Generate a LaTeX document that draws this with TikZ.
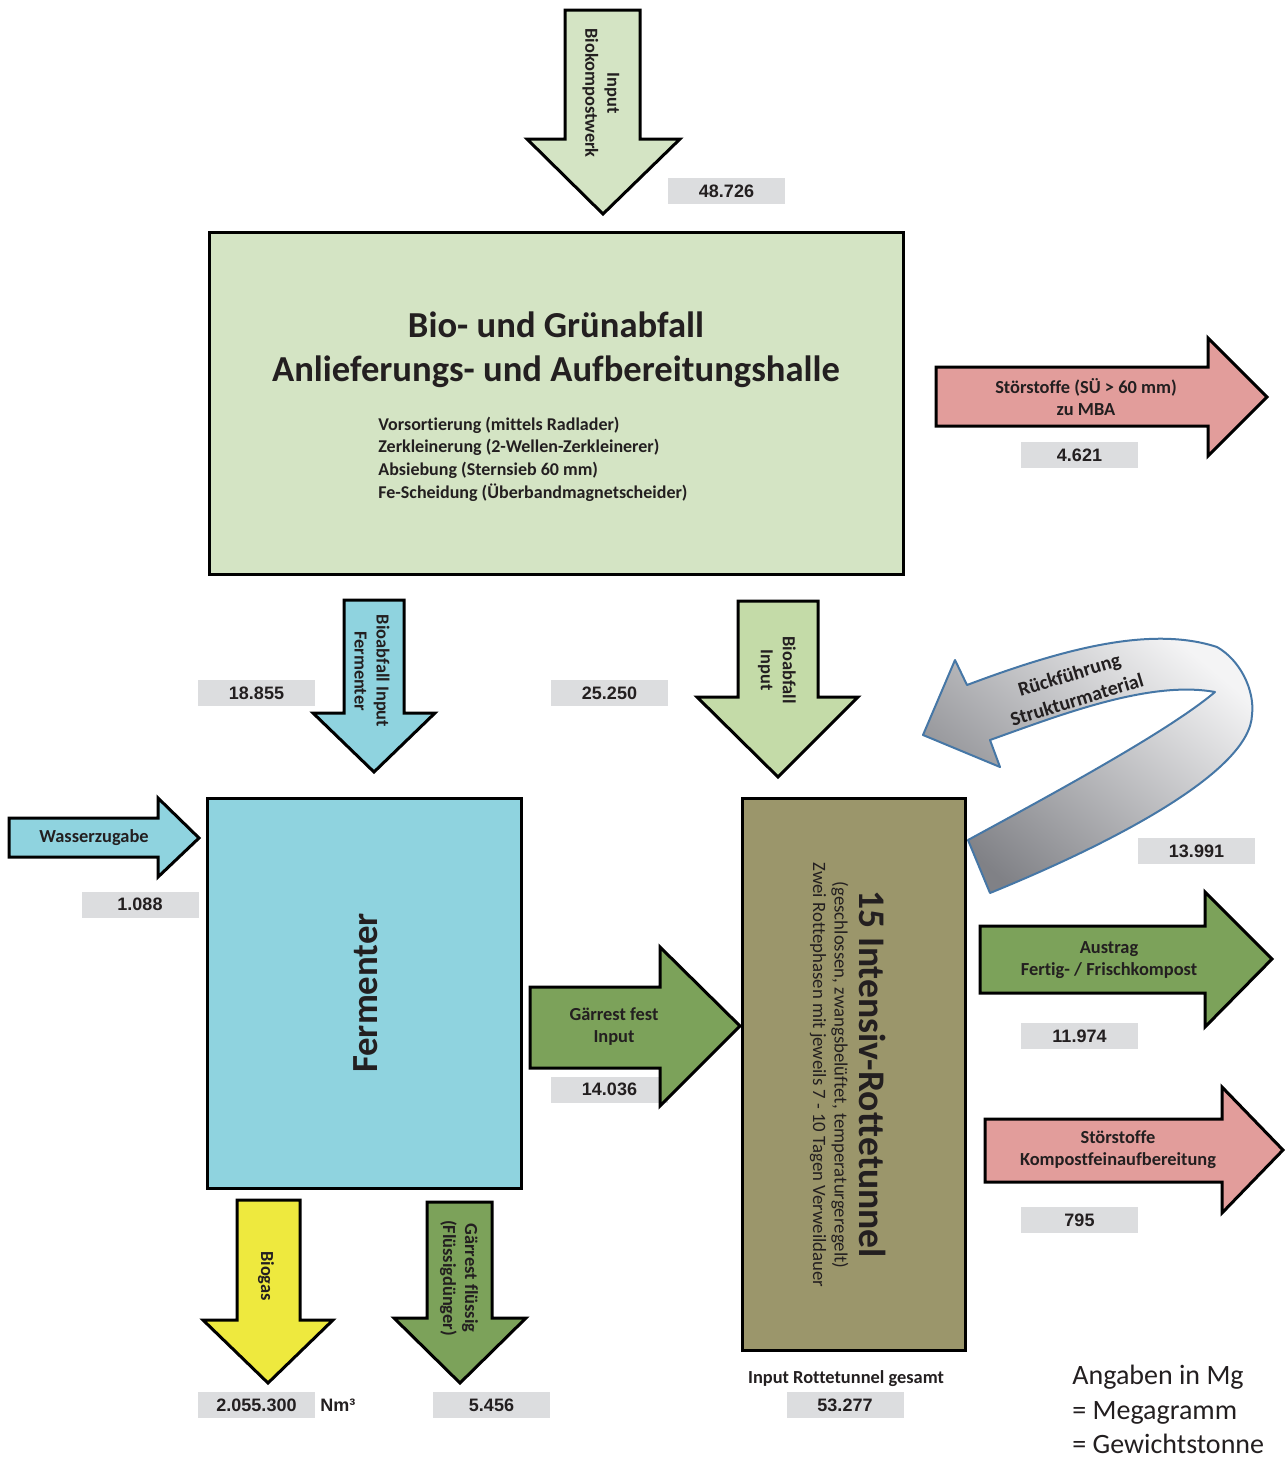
\documentclass[tikz,border=0pt]{standalone}
\usepackage{fontspec}
\setmainfont{Carlito}[Ligatures=NoCommon]
\newfontfamily\arialf{Liberation Sans}
\definecolor{txt}{HTML}{231F20}
\definecolor{lgreen}{HTML}{D4E4C4}
\definecolor{mgreen}{HTML}{C4DBA8}
\definecolor{dgreen}{HTML}{7CA25A}
\definecolor{lblue}{HTML}{8FD3DF}
\definecolor{lpink}{HTML}{E29D9B}
\definecolor{olive}{HTML}{9B966B}
\definecolor{yel}{HTML}{EEE93E}
\definecolor{numgray}{HTML}{DCDDDF}
\definecolor{ribbon}{HTML}{4677A6}
\definecolor{rlight}{HTML}{F4F4F5}
\definecolor{rdark}{HTML}{808186}
\begin{document}
\begin{tikzpicture}[x=0.5pt,y=-0.5pt,
  arr/.style={draw=black, line width=1.5pt, line join=miter},
  box/.style={draw=black, line width=1.5pt, inner sep=0pt},
  num/.style={fill=numgray, minimum width=58.5pt, minimum height=13pt, inner sep=0pt,
    font=\arialf\bfseries\fontsize{9}{10}\selectfont, text=txt},
  lbl/.style={font=\bfseries\fontsize{9.2}{11}\selectfont, text=txt, align=center, inner sep=0pt},
  vlbl/.style={lbl, rotate=-90},
]
\useasboundingbox (0,0) rectangle (1285,1458);

% ---------- number boxes (behind arrows) ----------
\node[num] (n1) at (726.5,191) {48.726};
\node[num] (n2) at (1079.5,455) {4.621};
\node[num] (n3) at (256.5,693) {18.855};
\node[num] (n4) at (609.5,693) {25.250};
\node[num] (n5) at (140,904.5) {1.088};
\node[num] (n6) at (609.5,1089.5) {14.036};
\node[num] (n7) at (1196.5,851) {13.991};
\node[num] (n8) at (1079.5,1036) {11.974};
\node[num] (n9) at (1079.5,1220) {795};
\node[num] (n10) at (256.5,1405) {2.055.300};
\node[num] (n11) at (491.5,1405) {5.456};
\node[num] (n12) at (845,1405) {53.277};
\node[font=\arialf\bfseries\fontsize{9}{10}\selectfont, text=txt, anchor=west, inner sep=0pt] (nm) at (320,1405) {Nm³};

% ---------- main boxes ----------
\node[box, fill=lgreen, minimum width=347pt, minimum height=171pt] (halle) at (556,403) {};
\node[box, fill=lblue, minimum width=157pt, minimum height=195pt] (ferm) at (364,993) {};
\node[box, fill=olive, minimum width=111.5pt, minimum height=276pt] (rotte) at (853.5,1074) {};

\node[font=\bfseries\fontsize{18.3}{22}\selectfont, text=txt, align=center, inner sep=0pt] (t1) at (556,350)
  {Bio- und Grünabfall\\Anlieferungs- und Aufbereitungshalle};
\node[font=\bfseries\fontsize{9}{11.35}\selectfont, text=txt, align=left, anchor=west, inner sep=0pt] (t2) at (378,459)
  {Vorsortierung (mittels Radlader)\\Zerkleinerung (2-Wellen-Zerkleinerer)\\Absiebung (Sternsieb 60 mm)\\Fe-Scheidung (Überbandmagnetscheider)};

\node[font=\bfseries\fontsize{18.4}{20}\selectfont, text=txt, rotate=90, inner sep=0pt] (t3) at (366,993) {Fermenter};

\node[font=\bfseries\fontsize{18.8}{20}\selectfont, text=txt, rotate=-90, inner sep=0pt] (r1) at (873,1074) {15 Intensiv-Rottetunnel};
\node[font=\fontsize{9.4}{10}\selectfont, text=txt, rotate=-90, inner sep=0pt] (r2) at (840,1075) {(geschlossen, zwangsbelüftet, temperaturgeregelt)};
\node[font=\fontsize{9.4}{10}\selectfont, text=txt, rotate=-90, inner sep=0pt] (r3) at (818,1075) {Zwei Rottephasen mit jeweils 7 - 10 Tagen Verweildauer};

% ---------- arrows ----------
\draw[arr, fill=lgreen] (565,10) -- (640,10) -- (640,139) -- (680,139) -- (603,214) -- (527,139) -- (565,139) -- cycle;
\node[vlbl] (a1) at (601,93) {Input\\Biokompostwerk};

\draw[arr, fill=lpink] (936,367) -- (1208,367) -- (1208,338) -- (1267,397) -- (1208,456) -- (1208,426) -- (936,426) -- cycle;
\node[lbl] (a2) at (1086,397) {Störstoffe (SÜ > 60 mm)\\zu MBA};

\draw[arr, fill=lblue] (344,600) -- (404,600) -- (404,713) -- (435,713) -- (374,772) -- (313,713) -- (344,713) -- cycle;
\node[vlbl] (a3) at (372,671) {Bioabfall Input\\Fermenter};

\draw[arr, fill=mgreen] (738,601) -- (818,601) -- (818,697) -- (858,697) -- (778,777) -- (697,697) -- (738,697) -- cycle;
\node[vlbl] (a4) at (777,670) {Bioabfall\\Input};

\draw[arr, fill=lblue] (9,818) -- (158,818) -- (158,798) -- (199,838) -- (158,877) -- (158,857) -- (9,857) -- cycle;
\node[lbl] (a5) at (94,838) {Wasserzugabe};

\draw[arr, fill=dgreen] (530,987) -- (660,987) -- (660,947) -- (740,1026) -- (660,1106) -- (660,1068) -- (530,1068) -- cycle;
\node[lbl] (a6) at (614,1027) {Gärrest fest\\Input};

\draw[arr, fill=dgreen] (980,926) -- (1205,926) -- (1205,892) -- (1272,959) -- (1205,1027) -- (1205,993) -- (980,993) -- cycle;
\node[lbl] (a7) at (1109,960) {Austrag\\Fertig- / Frischkompost};

\draw[arr, fill=lpink] (985,1119) -- (1222,1119) -- (1222,1087) -- (1283,1150) -- (1222,1213) -- (1222,1182) -- (985,1182) -- cycle;
\node[lbl] (a8) at (1118,1150) {Störstoffe\\Kompostfeinaufbereitung};

\draw[arr, fill=yel] (237,1200) -- (300,1200) -- (300,1320) -- (333,1320) -- (268,1383) -- (203,1320) -- (237,1320) -- cycle;
\node[vlbl] (a9) at (266,1276) {Biogas};

\draw[arr, fill=dgreen] (427,1202) -- (492,1202) -- (492,1318) -- (526,1318) -- (460,1383) -- (394,1318) -- (427,1318) -- cycle;
\node[vlbl] (a10) at (459,1278) {Gärrest flüssig\\(Flüssigdünger)};

% ---------- curved return arrow ----------
\draw[draw=ribbon, line width=1pt, line join=round, top color=rlight, bottom color=rdark, shading angle=-40]
  (968,840) .. controls (1060,790) and (1170,730) .. (1215,692)
  .. controls (1150,680) and (1060,715) .. (990,740)
  -- (1000,767) -- (923,735) -- (955,660) -- (967,685)
  .. controls (1060,650) and (1150,625) .. (1217,647)
  .. controls (1240,660) and (1255,690) .. (1252,715)
  .. controls (1250,770) and (1120,840) .. (990,893)
  -- cycle;
\node[font=\bfseries\fontsize{10}{13}\selectfont, text=txt, align=center, rotate=17, inner sep=0pt] (rf) at (1073,687) {Rückführung\\Strukturmaterial};

% ---------- footer texts ----------
\node[lbl] (ig) at (846,1379) {Input Rottetunnel gesamt};
\node[font=\fontsize{14}{17}\selectfont, text=txt, anchor=base west, inner sep=0pt] (f1) at (1072,1384) {Angaben in Mg};
\node[font=\fontsize{14}{17}\selectfont, text=txt, anchor=base west, inner sep=0pt] (f2) at (1072,1419) {= Megagramm};
\node[font=\fontsize{14}{17}\selectfont, text=txt, anchor=base west, inner sep=0pt] (f3) at (1072,1453) {= Gewichtstonne};
\end{tikzpicture}
\end{document}
